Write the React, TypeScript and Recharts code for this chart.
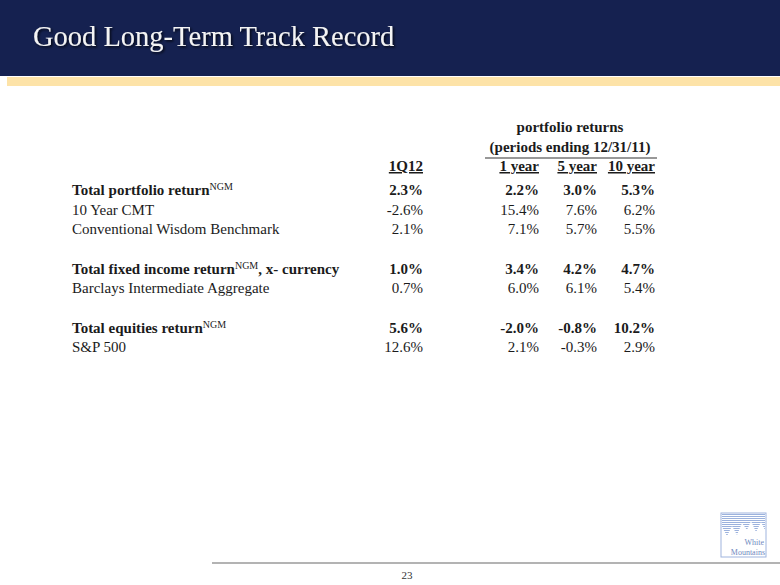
import React from "react";
import { ScatterChart, Scatter, XAxis, YAxis } from "recharts";

// table content
const rowLabels = [
  "Total portfolio return^NGM",
  "10 Year CMT",
  "Conventional Wisdom Benchmark",
  "",
  "Total fixed income return^NGM, x- currency",
  "Barclays Intermediate Aggregate",
  "",
  "Total equities return^NGM",
  "S&P 500",
];
const columns = ["1Q12", "gap", "1 year", "5 year", "10 year"];
const q1Values = [2.3, -2.6, 2.1, null, 1.0, 0.7, null, 5.6, 12.6];
const oneYear = [2.2, 15.4, 7.1, null, 3.4, 6.0, null, -2.0, 2.1];
const fiveYear = [3.0, 7.6, 5.7, null, 4.2, 6.1, null, -0.8, -0.3];
const tenYear = [5.3, 6.2, 5.5, null, 4.7, 5.4, null, 10.2, 2.9];
const gapValues = rowLabels.map(() => null);

const seriesValues = [q1Values, gapValues, oneYear, fiveYear, tenYear];

const FONT = "'Liberation Serif', serif";
const TEXT = "#1b1b1b";

const rowKey = (i: number) => "r" + i;
const isBold = (i: number) => rowLabels[i].startsWith("Total");

const makeData = (col: string, vals: (number | null)[]) =>
  vals.map((v, i) => ({ row: rowKey(i), col, v, bold: isBold(i) }));

const ValueCell = (props: any) => {
  const { cx, cy, payload } = props;
  if (payload == null || payload.v == null) return <g />;
  return (
    <text
      x={cx}
      y={cy}
      dy={5}
      textAnchor="end"
      fontFamily={FONT}
      fontSize={15}
      fontWeight={payload.bold ? 700 : 400}
      fill={TEXT}
    >
      {payload.v.toFixed(1) + "%"}
    </text>
  );
};

const RowTick = (props: any) => {
  const { y, payload } = props;
  const i = Number(String(payload.value).slice(1));
  const label = rowLabels[i];
  if (!label) return <g />;
  const [head, rest] = label.split("^NGM");
  const bold = isBold(i);
  return (
    <text
      x={72}
      y={y}
      dy={5}
      textAnchor="start"
      fontFamily={FONT}
      fontSize={15}
      fontWeight={bold ? 700 : 400}
      fill={TEXT}
    >
      {head}
      {rest !== undefined && (
        <>
          <tspan dy={-5} fontSize={10} fontWeight={400}>
            NGM
          </tspan>
          {rest && (
            <tspan dy={5} fontSize={15}>
              {rest}
            </tspan>
          )}
        </>
      )}
    </text>
  );
};

const ColTick = (props: any) => {
  const { x, payload } = props;
  if (payload.value === "gap") return <g />;
  return (
    <text
      x={x}
      y={171}
      textAnchor="end"
      fontFamily={FONT}
      fontSize={15}
      fontWeight={700}
      fill={TEXT}
      style={{ textDecoration: "underline" }}
    >
      {payload.value}
    </text>
  );
};

const Logo = () => (
  <g>
    <defs>
      <clipPath id="mt">
        <polygon points="722,514 765,514 765,530 761,522 756,532 751,521 747,530 742,523 737,535 732,526 727,536 722,527" />
      </clipPath>
    </defs>
    <rect x={721} y={513} width={45} height={44} fill="#fff" stroke="#9fb4de" strokeWidth={1} />
    <g clipPath="url(#mt)">
      {Array.from({ length: 12 }).map((_, k) => (
        <line key={k} x1={721} x2={766} y1={514.5 + k * 2} y2={514.5 + k * 2} stroke="#9cb2dd" strokeWidth={1} />
      ))}
    </g>
    <text x={764} y={545} textAnchor="end" fontFamily={FONT} fontSize={8} fill="#7089c0">
      White
    </text>
    <text x={765} y={555} textAnchor="end" fontFamily={FONT} fontSize={8} fill="#7089c0">
      Mountains
    </text>
  </g>
);

export default function App() {
  return (
    <div
      style={{
        position: "absolute",
        left: 0,
        top: 0,
        width: 780,
        height: 585,
        background: "#ffffff",
        overflow: "hidden",
      }}
    >
      <div style={{ position: "absolute", left: 0, top: 0 }}>
        <ScatterChart
          width={780}
          height={585}
          margin={{ top: 150, right: 96, bottom: 228, left: 0 }}
        >
          <XAxis
            xAxisId={0}
            type="category"
            dataKey="col"
            orientation="top"
            height={30}
            allowDuplicatedCategory={false}
            axisLine={false}
            tickLine={false}
            interval={0}
            tick={<ColTick />}
          />
          <YAxis
            yAxisId={0}
            type="category"
            dataKey="row"
            width={394}
            reversed
            allowDuplicatedCategory={false}
            axisLine={false}
            tickLine={false}
            interval={0}
            tick={<RowTick />}
          />
          {columns.map((c, k) => (
            <Scatter
              key={c}
              name={c}
              data={makeData(c, seriesValues[k])}
              shape={<ValueCell />}
              isAnimationActive={false}
            />
          ))}
        </ScatterChart>
      </div>
      <svg
        width={780}
        height={585}
        style={{ position: "absolute", left: 0, top: 0, pointerEvents: "none" }}
      >
        <defs>
          <filter id="titleShadow" x="-5%" y="-30%" width="110%" height="160%">
            <feDropShadow dx={1.5} dy={1.5} stdDeviation={0.8} floodColor="#000" floodOpacity={0.75} />
          </filter>
        </defs>
        <rect x={0} y={0} width={780} height={76} fill="#152150" />
        <rect x={7} y={77} width={773} height={9} fill="#fde3a8" />
        <text x={33} y={46} fontFamily={FONT} fontSize={28.5} fill="#f4f4f4" filter="url(#titleShadow)">
          Good Long-Term Track Record
        </text>
        <text x={570} y={132} textAnchor="middle" fontFamily={FONT} fontSize={15} fontWeight={700} fill={TEXT}>
          portfolio returns
        </text>
        <text x={570} y={152} textAnchor="middle" fontFamily={FONT} fontSize={15} fontWeight={700} fill={TEXT}>
          (periods ending 12/31/11)
        </text>
        <line x1={485} x2={657} y1={158} y2={158} stroke="#333" strokeWidth={1.2} />
        <line x1={212} x2={780} y1={563} y2={563} stroke="#9a9a9a" strokeWidth={1.5} />
        <text x={407} y={579} textAnchor="middle" fontFamily={FONT} fontSize={11} fill="#333">
          23
        </text>
        <Logo />
      </svg>
    </div>
  );
}
